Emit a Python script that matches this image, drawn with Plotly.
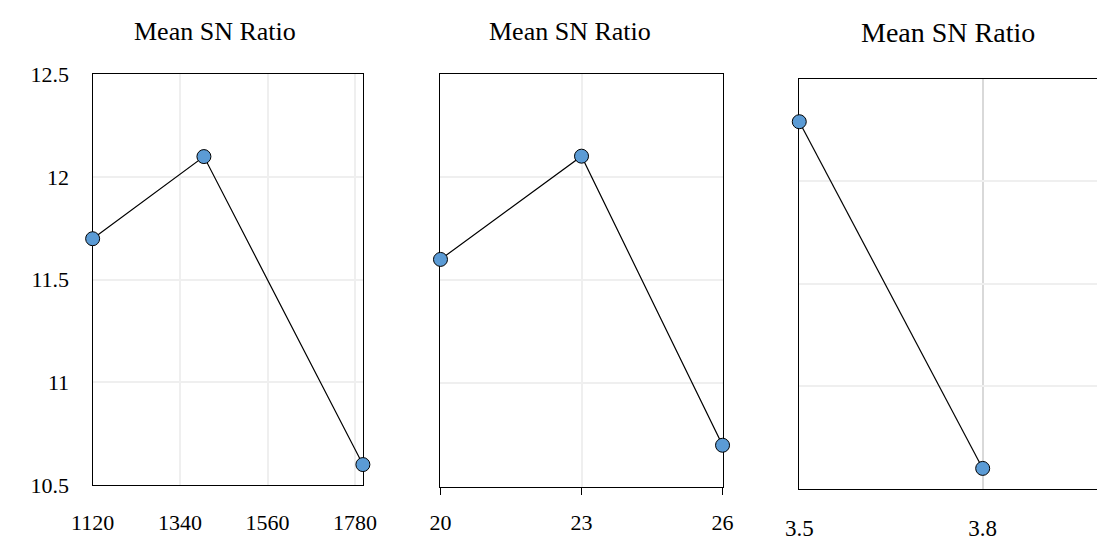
import plotly.graph_objects as go

# ---- data ----
speed = [1120, 1400, 1800]
speed_sn = [11.70, 12.10, 10.60]
feed = [20, 23, 26]
feed_sn = [11.60, 12.10, 10.70]
depth = [3.5, 3.8]
depth_sn = [12.29, 10.60]
panel_title = "Mean SN Ratio"

W, H = 1111, 541
FONT = "Liberation Serif"

def xd(a, b):
    return [a / W, b / W]

def yd(top, bottom):
    return [(H - bottom) / H, (H - top) / H]

fig = go.Figure()
marker = dict(size=14, color="#5b9bd5", line=dict(color="#000000", width=1))
line = dict(color="#000000", width=1.2)
for i, (xs, ys) in enumerate([(speed, speed_sn), (feed, feed_sn), (depth, depth_sn)]):
    fig.add_trace(go.Scatter(
        x=xs, y=ys, mode="lines+markers", marker=marker, line=line,
        xaxis="x" if i == 0 else f"x{i+1}", yaxis="y" if i == 0 else f"y{i+1}",
        cliponaxis=False, showlegend=False, hoverinfo="skip"))

light = "#efefef"
common_x = dict(showline=True, linecolor="#000000", linewidth=1.3, mirror=True,
                showgrid=True, gridcolor=light, gridwidth=1.5, zeroline=False,
                tickfont=dict(family=FONT, size=22, color="#000000"), layer="below traces",
                fixedrange=True)
common_y = dict(showline=True, linecolor="#000000", linewidth=1.3, mirror=True,
                showgrid=True, gridcolor=light, gridwidth=1.5, zeroline=False,
                range=[10.5, 12.5], dtick=0.5, tick0=10.5,
                tickfont=dict(family=FONT, size=22, color="#000000"), layer="below traces",
                fixedrange=True)

fig.update_layout(
    width=W, height=H, margin=dict(l=0, r=0, t=0, b=0),
    paper_bgcolor="white", plot_bgcolor="white",
    font=dict(family=FONT, color="#000000"),
    xaxis=dict(common_x, domain=xd(73, 352.3), range=[1120, 1800], tick0=1120, dtick=220,
               anchor="y", ticks="", ticklabelstandoff=17),
    yaxis=dict(common_y, domain=yd(65.6, 497), anchor="x", ticks="", ticklabelstandoff=18),
    xaxis2=dict(common_x, domain=xd(432.5, 724), range=[20, 26], tick0=20, dtick=3,
                anchor="y2", ticks="outside", ticklen=7, tickcolor="#000000", tickwidth=1.3,
                ticklabelstandoff=9),
    yaxis2=dict(common_y, domain=yd(64.7, 498.5), anchor="x2", showticklabels=False, ticks=""),
    xaxis3=dict(common_x, domain=xd(803.3, 1111), range=[3.5, 3.987], tick0=3.5, dtick=0.3,
                tickformat=".1f", gridcolor="#d9d9d9", anchor="y3", ticks="", ticklabelstandoff=18,
                tickfont=dict(family=FONT, size=23, color="#000000")),
    yaxis3=dict(common_y, domain=yd(70, 501), anchor="x3", showticklabels=False, ticks="",
                mirror=False),
)

for cx, cy, fs in [(199, 20, 26), (566, 20, 26), (956.7, 22, 28)]:
    fig.add_annotation(text=panel_title, x=cx / W, y=(H - cy) / H, xref="paper", yref="paper",
                       showarrow=False, xanchor="center", yanchor="middle",
                       font=dict(family=FONT, size=fs, color="#000000"))

fig.write_html("out.html")
